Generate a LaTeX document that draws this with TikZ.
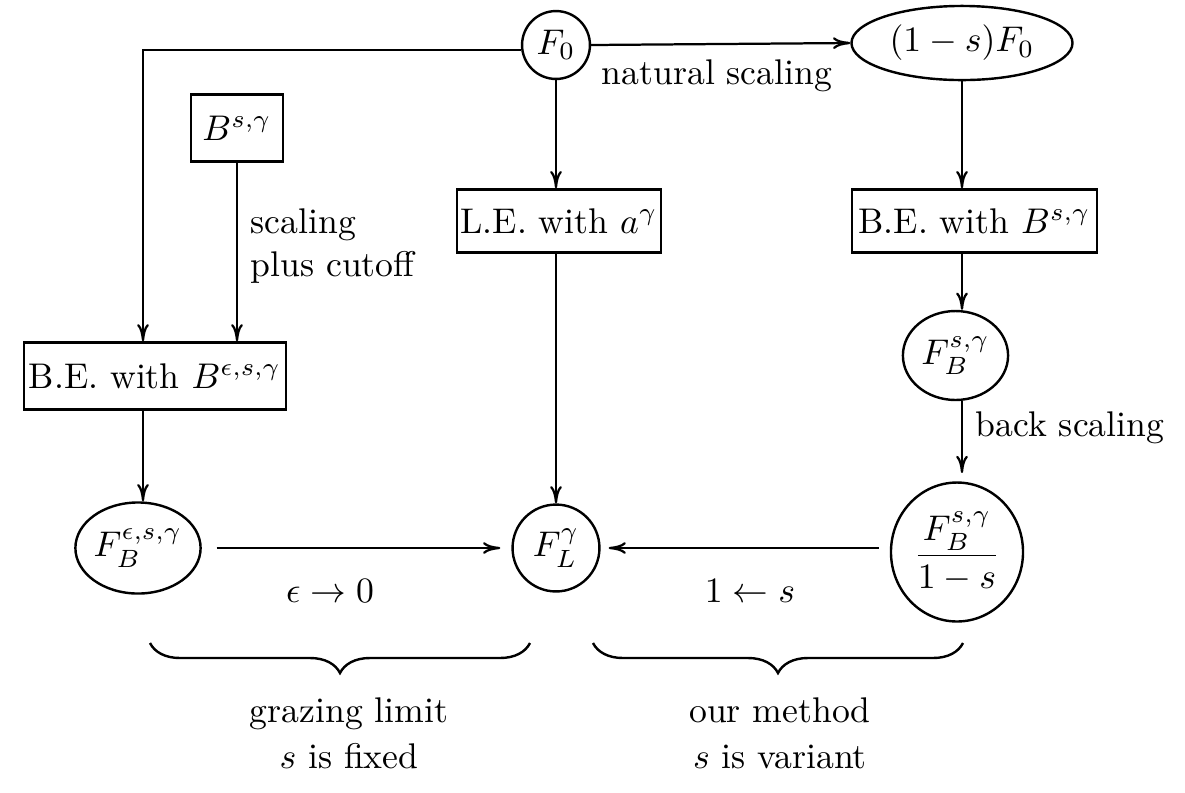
\documentclass[tikz,border=0pt]{standalone}
\usepackage{amsmath}
\usetikzlibrary{shapes.geometric,decorations.pathreplacing,calc,arrows.meta}
\begin{document}
\begin{tikzpicture}[x=0.29pt,y=-0.29pt,
  every node/.style={scale=1.035},
  box/.style={draw, line width=0.7pt, inner sep=0pt, align=center},
  ell/.style={ellipse, draw, line width=0.7pt, inner sep=0pt},
  circ/.style={circle, draw, line width=0.7pt, inner sep=0pt},
  arr/.style={-{Computer Modern Rightarrow[length=5pt, width=3.4pt]}, line width=0.65pt},
  lbl/.style={inner sep=0pt, align=center},
  brc/.style={decorate, decoration={brace, mirror, amplitude=8.7pt}, line width=0.7pt}]
\useasboundingbox (0,0) rectangle (1185,792);
% nodes
\node[circ, minimum size=19.03pt] (F0) at (556,45) {$F_0$};
\node[ell, minimum width=61.93pt, minimum height=20.77pt] (E1) at (962,43) {$(1-s)F_0$};
\node[box, minimum width=25.8pt, minimum height=18.74pt] (Bsg) at (237,128) {$B^{s,\gamma}$};
\node[box, minimum width=57.2pt, minimum height=17.68pt] (LE) at (559,221) {L.E. with $a^{\gamma}$};
\node[box, minimum width=68.7pt, minimum height=17.68pt] (BE) at (974.5,221) {B.E. with $B^{s,\gamma}$};
\node[box, minimum width=73.43pt, minimum height=18.74pt] (BEe) at (155,376) {B.E. with $B^{\epsilon,s,\gamma}$};
\node[ell, minimum width=34.49pt, minimum height=25.51pt] (FBe) at (138,548) {$F_B^{\epsilon,s,\gamma}$};
\node[circ, minimum size=24.35pt] (FL) at (556,548) {$F_L^{\gamma}$};
\node[ell, minimum width=29.47pt, minimum height=24.93pt] (FBs) at (955.5,355.5) {$F_B^{s,\gamma}$};
\node[ell, minimum width=37pt, minimum height=38.94pt] (Frac) at (957,552) {$\displaystyle\frac{F_B^{s,\gamma}}{1-s}$};
% labels
\node[lbl] (Lnat) at (717,76) {natural scaling};
\node[lbl, anchor=west, align=left] (Lcut) at (250,246) {scaling\\plus cutoff};
\node[lbl] (Lback) at (1070,428) {back scaling};
\node[lbl] (Leps) at (330,591) {$\epsilon\to 0$};
\node[lbl] (Ls) at (750,591) {$1\leftarrow s$};
\node[lbl] (Lgraz) at (349,733) {grazing limit\\[1pt] $s$ is fixed};
\node[lbl] (Lour) at (780,733) {our method\\[1pt] $s$ is variant};
% helper coordinates
\coordinate (a1) at ($(BEe.north)+(-12,0)$);
\coordinate (a2) at ($(BEe.south)+(-12,0)$);
\coordinate (c1) at (BE.south -| E1.south);
\coordinate (d1) at (Frac.west |- FL.east);
% connectors
\draw[arr] (F0.east) -- (E1.west);
\draw[arr] (F0.188) -| (a1);
\draw[arr] (Bsg.south) -- (Bsg.south |- BEe.north);
\draw[arr] (a2) -- (a2 |- FBe.north);
\draw[arr, shorten <=4.3pt, shorten >=3.2pt] (FBe) -- (FL);
\draw[arr] (F0.south) -- (F0.south |- LE.north);
\draw[arr] (LE.south -| FL.north) -- (FL.north);
\draw[arr] (E1.south) -- (E1.south |- BE.north);
\draw[arr] (c1) -- (c1 |- FBs.north);
\draw[arr, shorten >=2.4pt] (c1 |- FBs.south) -- (c1 |- Frac.north);
\draw[arr, shorten <=3.2pt, shorten >=2.3pt] (d1) -- (FL.east);
% braces
\coordinate (b1) at (150,643);
\coordinate (b2) at (530,643);
\coordinate (b3) at (593,643);
\coordinate (b4) at (963,643);
\draw[brc] (b1) -- (b2);
\draw[brc] (b3) -- (b4);
\end{tikzpicture}
\end{document}
